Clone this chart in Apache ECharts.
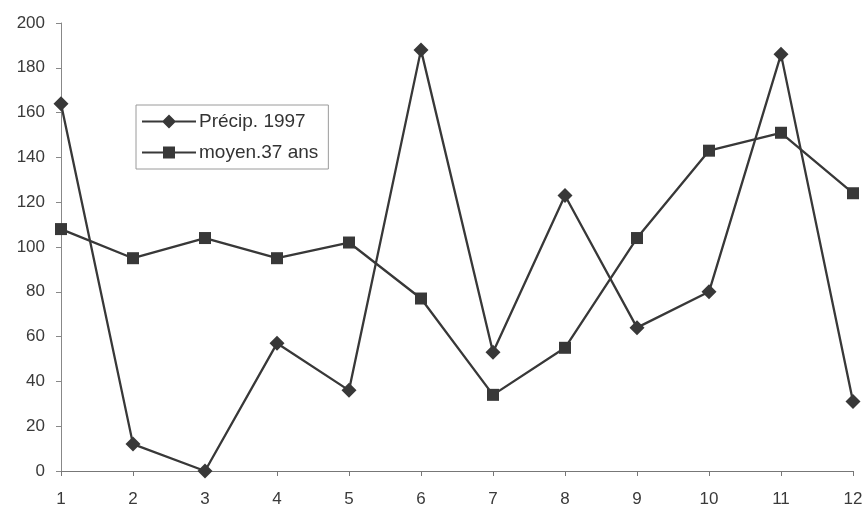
<!DOCTYPE html>
<html><head><meta charset="utf-8">
<script src="https://cdn.jsdelivr.net/npm/echarts@6/dist/echarts.min.js"></script>
<style>html,body{margin:0;padding:0;background:#fff}#c{width:866px;height:510px}</style>
</head><body><div id="c"></div>
<script>
var months = ['1','2','3','4','5','6','7','8','9','10','11','12'];
var precip1997 = [164, 12, 0, 57, 36, 188, 53, 123, 64, 80, 186, 31];
var moyen37 = [108, 95, 104, 95, 102, 77, 34, 55, 104, 143, 151, 124];
var yTicks = [0, 20, 40, 60, 80, 100, 120, 140, 160, 180, 200];

var chart = echarts.init(document.getElementById('c'));
var lineColor = '#383838';
var font = 'Liberation Sans, Arial, sans-serif';
var iconDiamond = 'path://M0,7L54,7L54,9L0,9Z M27,1L34,8L27,15L20,8Z';
var iconSquare = 'path://M0,7L54,7L54,9L0,9Z M21,2L33,2L33,14L21,14Z';
chart.setOption({
  animation: false,
  backgroundColor: '#ffffff',
  grid: {left: 61, right: 13, top: 23, bottom: 39, containLabel: false},
  legend: {
    orient: 'vertical', left: 136, top: 105,
    itemWidth: 54, itemHeight: 16, itemGap: 12,
    padding: [7, 10, 7, 6],
    borderColor: '#9a9a9a', borderWidth: 1,
    textStyle: {fontFamily: font, fontSize: 19, color: '#333', padding: [0,0,0,-2]},
    data: [{name: 'Précip. 1997', icon: iconDiamond}, {name: 'moyen.37 ans', icon: iconSquare}]
  },
  xAxis: {
    type: 'category', data: months, boundaryGap: false,
    axisLine: {lineStyle: {color: '#777', width: 1}},
    axisTick: {show: true, length: 5, lineStyle: {color: '#777'}},
    axisLabel: {fontFamily: font, fontSize: 17, color: '#3a3a3a', margin: 20}
  },
  yAxis: {
    type: 'value', min: yTicks[0], max: yTicks[yTicks.length-1], interval: 20,
    axisLine: {show: true, lineStyle: {color: '#888', width: 1}},
    axisTick: {show: true, length: 5, lineStyle: {color: '#888'}},
    splitLine: {show: false},
    axisLabel: {fontFamily: font, fontSize: 17, color: '#3a3a3a', margin: 16}
  },
  series: [
    {name: 'Précip. 1997', type: 'line', data: precip1997,
     symbol: 'diamond', symbolSize: 15, showAllSymbol: true,
     lineStyle: {color: lineColor, width: 2.3}, itemStyle: {color: lineColor}},
    {name: 'moyen.37 ans', type: 'line', data: moyen37,
     symbol: 'rect', symbolSize: 12, showAllSymbol: true,
     lineStyle: {color: lineColor, width: 2.3}, itemStyle: {color: lineColor}}
  ]
});
</script></body></html>
